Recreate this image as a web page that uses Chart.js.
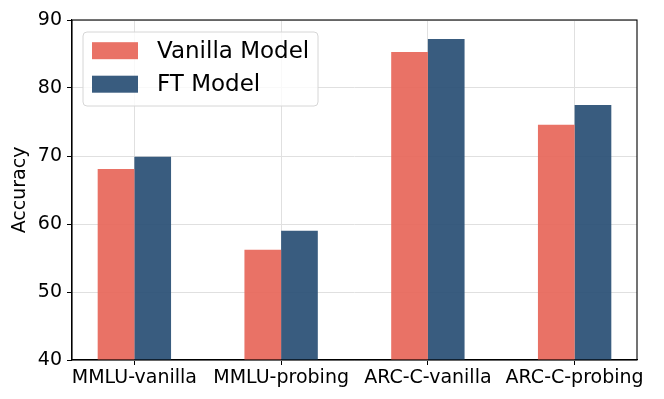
<!DOCTYPE html>
<html>
<head>
<meta charset="utf-8">
<script src="https://cdn.jsdelivr.net/npm/chart.js@4/dist/chart.umd.min.js"></script>
<style>
  html, body { margin: 0; padding: 0; background: #ffffff; }
  canvas { display: block; }
</style>
</head>
<body>
<canvas id="c" width="664" height="399"></canvas>
<script>
const categories = ["MMLU-vanilla", "MMLU-probing", "ARC-C-vanilla", "ARC-C-probing"];
const vanillaModel = [68.1, 56.2, 85.3, 74.6];
const ftModel = [69.9, 59.0, 87.2, 77.5];
const yTicks = [40, 50, 60, 70, 80, 90];
const seriesNames = ["Vanilla Model", "FT Model"];

const FONT = "'DejaVu Sans', sans-serif";
const vanillaColor = "rgba(231,102,89,0.92)";
const ftColor = "rgba(40,78,116,0.92)";

const framePlugin = {
  id: 'frame',
  afterDatasetsDraw(chart) {
    const a = chart.chartArea, ctx = chart.ctx;
    ctx.save();
    ctx.strokeStyle = '#000';
    ctx.lineWidth = 1.1;
    ctx.strokeRect(a.left, a.top, a.right - a.left, a.bottom - a.top);
    ctx.restore();
  }
};

const legendPlugin = {
  id: 'boxLegend',
  afterDraw(chart) {
    const ctx = chart.ctx;
    const x = 83, y = 32, w = 235, h = 74, r = 4;
    ctx.save();
    ctx.beginPath();
    ctx.moveTo(x + r, y);
    ctx.arcTo(x + w, y, x + w, y + h, r);
    ctx.arcTo(x + w, y + h, x, y + h, r);
    ctx.arcTo(x, y + h, x, y, r);
    ctx.arcTo(x, y, x + w, y, r);
    ctx.closePath();
    ctx.fillStyle = 'rgba(255,255,255,0.8)';
    ctx.fill();
    ctx.strokeStyle = '#d6d6d6';
    ctx.lineWidth = 1;
    ctx.stroke();
    const rows = [50.7, 84.2];
    chart.data.datasets.forEach((ds, i) => {
      const cy = rows[i];
      ctx.fillStyle = ds.backgroundColor;
      ctx.fillRect(92, cy - 8.5, 46, 17);
      ctx.fillStyle = '#000';
      ctx.font = '23px ' + FONT;
      ctx.textBaseline = 'middle';
      ctx.textAlign = 'left';
      ctx.fillText(ds.label, 157, cy + 1);
    });
    ctx.restore();
  }
};

new Chart(document.getElementById('c'), {
  type: 'bar',
  data: {
    datasets: [
      {
        label: seriesNames[0],
        data: categories.map((c, i) => ({ x: i, y: vanillaModel[i] })),
        backgroundColor: vanillaColor,
        borderWidth: 0,
        categoryPercentage: 0.5,
        barPercentage: 1.0
      },
      {
        label: seriesNames[1],
        data: categories.map((c, i) => ({ x: i, y: ftModel[i] })),
        backgroundColor: ftColor,
        borderWidth: 0,
        categoryPercentage: 0.5,
        barPercentage: 1.0
      }
    ]
  },
  options: {
    responsive: false,
    animation: false,
    devicePixelRatio: 1,
    layout: { padding: { left: 0, top: 20, right: 27, bottom: 0 } },
    plugins: {
      legend: { display: false },
      tooltip: { enabled: false }
    },
    scales: {
      x: {
        type: 'linear',
        min: -0.425,
        max: 3.425,
        offset: false,
        grid: { color: '#e0e0e0', lineWidth: 1, offset: false, drawTicks: true, tickColor: '#000', tickLength: 5 },
        border: { color: '#000', width: 1.1 },
        afterBuildTicks(scale) { scale.ticks = categories.map((c, i) => ({ value: i })); },
        afterFit(scale) { scale.height = 39; },
        ticks: {
          color: '#000',
          font: { family: FONT, size: 19 },
          padding: 2,
          maxRotation: 0,
          autoSkip: false,
          callback: (v) => categories[v] ?? ''
        }
      },
      y: {
        min: 40,
        max: 90,
        afterBuildTicks(scale) { scale.ticks = yTicks.map(v => ({ value: v })); },
        afterFit(scale) { scale.width = 72; },
        grid: { color: '#e0e0e0', lineWidth: 1, drawTicks: true, tickColor: '#000', tickLength: 5 },
        border: { color: '#000', width: 1.1 },
        title: {
          display: true,
          text: 'Accuracy',
          color: '#000',
          font: { family: FONT, size: 19 },
          padding: { top: 9, bottom: 0 }
        },
        ticks: {
          color: '#000',
          font: { family: FONT, size: 19 },
          padding: 5
        }
      }
    }
  },
  plugins: [framePlugin, legendPlugin]
});
</script>
</body>
</html>
